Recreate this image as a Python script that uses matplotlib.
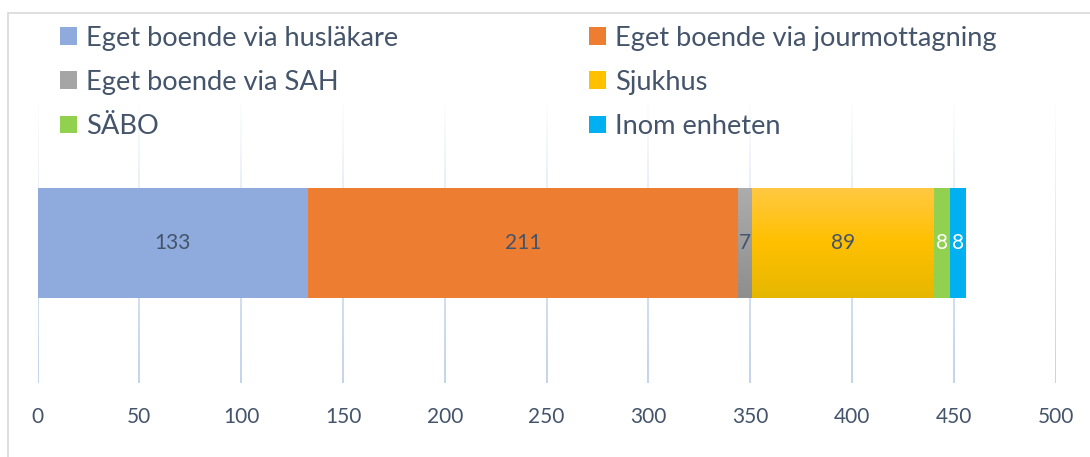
import numpy as np
import matplotlib
matplotlib.use("Agg")
import matplotlib.pyplot as plt
from matplotlib.patches import Patch, Rectangle
from matplotlib.collections import LineCollection
from matplotlib.colors import to_rgb

# Antal patienter per utskrivningsdestination
categories = ["Eget boende via husläkare", "Eget boende via jourmottagning",
              "Eget boende via SAH", "Sjukhus", "SÄBO", "Inom enheten"]
values = [133, 211, 7, 89, 8, 8]
ticks = [0, 50, 100, 150, 200, 250, 300, 350, 400, 450, 500]

colors = ["#8FAADC", "#ED7D31", "#A5A5A5", "#FFC000", "#92D050", "#00B0F0"]
# top -> bottom colours for the shaded segments
gradients = {2: ("#ADADAD", "#8E8E8E"), 3: ("#FFC943", "#FFC000", "#E6B700")}
label_colors = ["#44546A", "#44546A", "#44546A", "#44546A", "white", "white"]
text_color = "#44546A"

plt.rcParams["font.family"] = ["Lato", "DejaVu Sans"]

W, H = 1090, 457
fig = plt.figure(figsize=(W / 100, H / 100), dpi=100)

# axes spans the gridline area in pixels
x0, x1 = 37.5, 1055.7
ytop, ybot = 103, 383
ax = fig.add_axes([x0 / W, 1 - ybot / H, (x1 - x0) / W, (ybot - ytop) / H])

# gridlines fading out towards the top
grid_rgb = np.array(to_rgb("#B4C7E7"))
n = 60
segs, cols = [], []
ys = np.linspace(-0.5, 0.5, n + 1)
for t in ticks:
    for i in range(n):
        segs.append([(t, ys[i]), (t, ys[i + 1])])
        a = 1.0 - (i / n) ** 1.2 * 0.97
        cols.append((*grid_rgb, a))
ax.add_collection(LineCollection(segs, colors=cols, linewidths=1.1, zorder=0))

bar_h = 0.396
left = 0
for i, (cat, v) in enumerate(zip(categories, values)):
    bar = ax.barh(0, v, left=left, height=bar_h, color=colors[i], zorder=2)[0]
    if i in gradients:
        stops = [to_rgb(c) for c in gradients[i]]
        m = 100
        pos = np.linspace(0, 1, len(stops))
        grad = np.zeros((m, 1, 3))
        tt = np.linspace(0, 1, m)
        for k in range(3):
            grad[:, 0, k] = np.interp(tt, pos, [s[k] for s in stops])
        im = ax.imshow(grad, extent=[left, left + v, -bar_h / 2, bar_h / 2],
                       origin="upper", aspect="auto", zorder=3,
                       interpolation="bilinear")
        im.set_clip_path(bar)
    ax.text(left + v / 2, 0, str(v), ha="center", va="center",
            color=label_colors[i], fontsize=15, zorder=4)
    left += v
ax.set_ylim(-0.5, 0.5)
ax.set_xlim(0, 500)

ax.set_yticks([])
ax.set_xticks(ticks)
ax.tick_params(axis="x", length=0, pad=17, labelsize=15, labelcolor=text_color)
for s in ax.spines.values():
    s.set_visible(False)
ax.patch.set_alpha(0)

# chart area border
fig.patches.append(Rectangle((8 / W, -0.1), 1.2, 1 - 13 / H + 0.1,
                             transform=fig.transFigure, fill=False,
                             edgecolor="#D9D9D9", linewidth=1.2))

order = [0, 2, 4, 1, 3, 5]
handles = [Patch(facecolor=colors[i], label=categories[i]) for i in order]
fig.legend(handles=handles, loc="upper left", bbox_to_anchor=(49 / W, 1 - 15 / H),
           ncol=2, frameon=False, fontsize=19.6, labelcolor=text_color,
           handlelength=0.63, handleheight=0.63, handletextpad=0.33,
           labelspacing=0.7, columnspacing=7.0, borderaxespad=0)

fig.savefig("out.png", dpi=100)
